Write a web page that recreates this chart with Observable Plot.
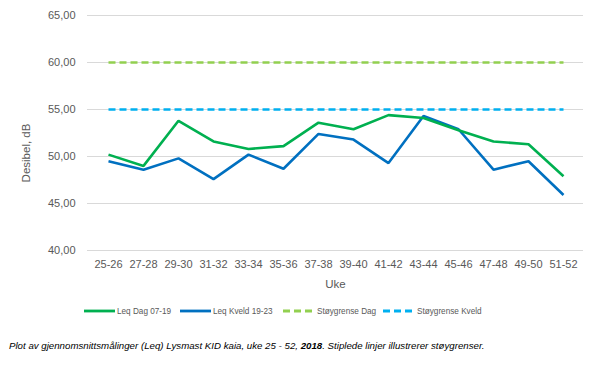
<!DOCTYPE html>
<html>
<head>
<meta charset="utf-8">
<script src="https://cdn.jsdelivr.net/npm/d3@7"></script>
<script src="https://cdn.jsdelivr.net/npm/@observablehq/plot@0.6"></script>
<style>
  body { margin: 0; background: #fff; font-family: "Liberation Sans", Arial, sans-serif; }
  #wrap { position: relative; width: 589px; height: 366px; }
  #legend { position: absolute; left: 0; top: 303px; width: 589px; height: 16px; }
  #caption { position: absolute; left: 9px; top: 340px; font-style: italic; font-size: 9.7px; color: #000; white-space: nowrap; }
</style>
</head>
<body>
<div id="wrap">
  <div id="chart"></div>
  <svg id="legend" width="589" height="16"></svg>
  <div id="caption">Plot av gjennomsnittsmålinger (Leq) Lysmast KID kaia, uke 25 - 52, <b>2018</b>. Stiplede linjer illustrerer støygrenser.</div>
</div>
<script>
const weeks = ["25-26","27-28","29-30","31-32","33-34","35-36","37-38","39-40","41-42","43-44","45-46","47-48","49-50","51-52"];
const leqDag =   [50.2, 49.0, 53.8, 51.6, 50.8, 51.1, 53.6, 52.9, 54.4, 54.1, 52.8, 51.6, 51.3, 47.9];
const leqKveld = [49.5, 48.6, 49.8, 47.6, 50.2, 48.7, 52.4, 51.8, 49.3, 54.3, 52.9, 48.6, 49.5, 45.9];
const grenseDag = 60;
const grenseKveld = 55;
const yTicks = [40, 45, 50, 55, 60, 65];

const series = [
  {name: "Leq Dag 07-19", color: "#00b050", dash: null, values: leqDag},
  {name: "Leq Kveld 19-23", color: "#0070c0", dash: null, values: leqKveld},
  {name: "Støygrense Dag", color: "#92d050", dash: "7,4", values: weeks.map(() => grenseDag)},
  {name: "Støygrense Kveld", color: "#00b0f0", dash: "7,4", values: weeks.map(() => grenseKveld)}
];
const rows = s => weeks.map((w, i) => ({week: w, value: s.values[i]}));
const fmt = d3.format(".2f");

const plot = Plot.plot({
  width: 589,
  height: 300,
  marginLeft: 87,
  marginRight: 6,
  marginTop: 15,
  marginBottom: 50,
  style: {fontFamily: "Liberation Sans, Arial, sans-serif", fontSize: "11px", color: "#595959", background: "#fff"},
  x: {type: "point", domain: weeks, padding: 0.5, label: null},
  y: {domain: [40, 65], label: null},
  marks: [
    Plot.gridY(yTicks, {stroke: "#d9d9d9", strokeOpacity: 1, strokeWidth: 1}),
    Plot.axisY(yTicks, {tickSize: 0, tickPadding: 12, tickFormat: d => fmt(d).replace(".", ","), fill: "#595959", fontSize: 11, label: null}),
    Plot.axisX({tickSize: 0, tickPadding: 10, fill: "#595959", fontSize: 11, label: null}),
    Plot.text(["Uke"], {frameAnchor: "bottom", dy: 37, fill: "#595959", fontSize: 11.5}),
    Plot.text(["Desibel, dB"], {frameAnchor: "left", textAnchor: "middle", dx: -61, dy: 20, rotate: -90, fill: "#595959", fontSize: 11.5}),
    ...series.slice().reverse().map(s => Plot.line(rows(s), {
      x: "week", y: "value", stroke: s.color, strokeWidth: 2.6,
      strokeDasharray: s.dash, strokeLinejoin: "miter", strokeLinecap: "butt"
    }))
  ]
});
document.getElementById("chart").appendChild(plot);

// legend
const lg = d3.select("#legend");
const starts = [84, 180, 283, 383];
series.forEach((s, i) => {
  const x0 = starts[i];
  lg.append("line").attr("x1", x0).attr("x2", x0 + 31).attr("y1", 8).attr("y2", 8)
    .attr("stroke", s.color).attr("stroke-width", 2.8)
    .attr("stroke-dasharray", s.dash ? "7,4" : null);
  lg.append("text").attr("x", x0 + (s.dash ? 34 : 33)).attr("y", 11)
    .attr("font-size", 8.2).attr("fill", "#595959")
    .attr("font-family", "Liberation Sans, Arial, sans-serif").text(s.name);
});
</script>
</body>
</html>
